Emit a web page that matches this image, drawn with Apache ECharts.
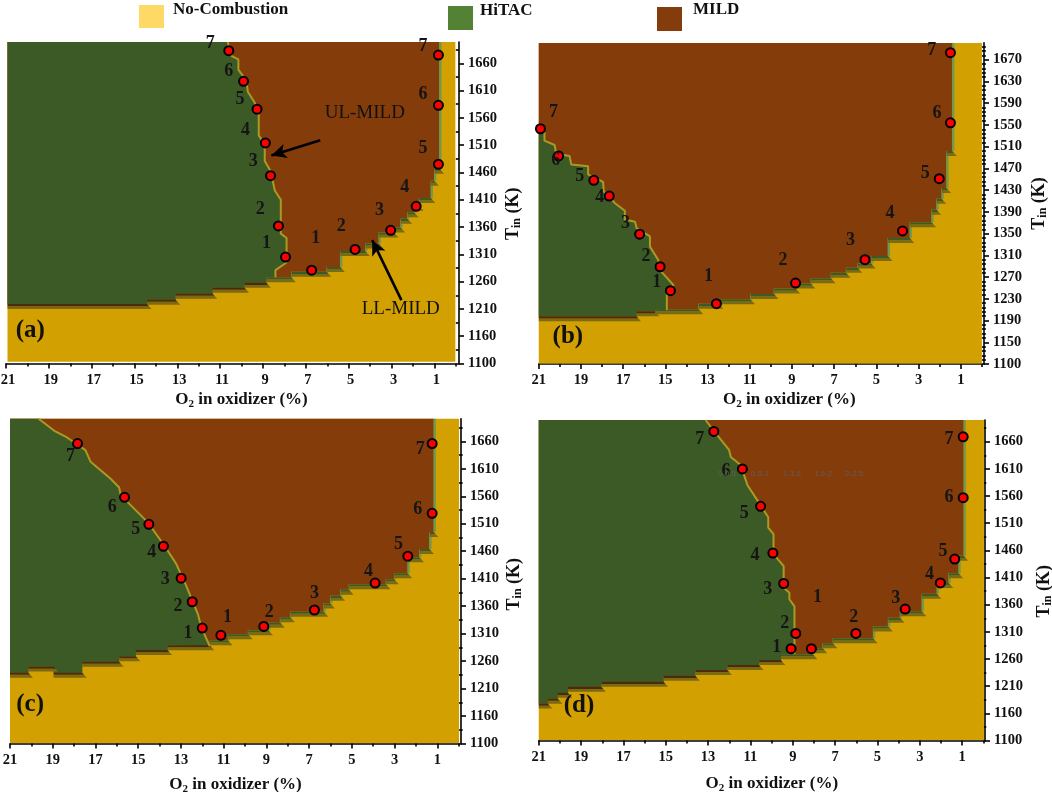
<!DOCTYPE html>
<html><head><meta charset="utf-8">
<style>html,body{margin:0;padding:0;background:#fff}#c{width:1052px;height:792px}</style>
<script src="https://cdn.jsdelivr.net/npm/echarts@6/dist/echarts.min.js"></script>
</head><body><div id="c"></div>
<script>
// ---------- shared tick data
const xMajor = [21,19,17,15,13,11,9,7,5,3,1];
const xMinor = [20,18,16,14,12,10,8,6,4,2,0];
const yMajor50 = [1110,1160,1210,1260,1310,1360,1410,1460,1510,1560,1610,1660];
const yLabels50 = ['1100','1160','1210','1260','1310','1360','1410','1460','1510','1560','1610','1660'];
const yMinor50 = [1135,1185,1235,1285,1335,1385,1435,1485,1535,1585,1635,1685];
const yMajor40 = [1110,1150,1190,1230,1270,1310,1350,1390,1430,1470,1510,1550,1590,1630,1670];
const yLabels40 = ['1100','1150','1190','1230','1270','1310','1350','1390','1430','1470','1510','1550','1590','1630','1670'];
const yMinor40 = [1118,1126,1134,1142,1158,1166,1174,1182,1198,1206,1214,1222,1238,1246,1254,1262,1278,1286,1294,1302,1318,1326,1334,1342,1358,1366,1374,1382,1398,1406,1414,1422,1438,1446,1454,1462,1478,1486,1494,1502,1518,1526,1534,1542,1558,1566,1574,1582,1598,1606,1614,1622,1638,1646,1654,1662,1678,1686,1694];

// ---------- panel (a)
const stairsA = [[20.93,1219],[14.41,1219],[14.41,1227],[13.08,1227],[13.08,1238],[11.35,1238],[11.35,1249],[9.86,1249],[9.86,1258],[8.84,1258],[8.84,1268],[7.67,1268],[7.67,1278],[6.02,1278],[6.02,1287],[5.39,1287],[5.39,1316],[4.22,1316],[4.22,1330],[3.59,1330],[3.59,1350],[2.88,1350],[2.88,1359],[2.57,1359],[2.57,1375],[2.25,1375],[2.25,1387],[1.94,1387],[1.94,1399],[1.71,1399],[1.71,1413],[1.16,1413],[1.16,1445],[1.0,1445],[1.0,1467],[0.76,1467],[0.76,1699]];
const splitA = [[10.65,1699],[10.46,1673],[10.15,1667],[10.15,1648],[9.78,1629],[9.71,1608],[9.39,1588],[9.2,1565],[9.2,1528],[8.92,1511],[8.92,1481],[8.64,1462],[8.45,1427],[8.17,1410],[8.17,1348],[7.9,1340],[7.9,1295],[8.42,1281],[8.42,1268]];
const pointsA = [[10.6,1683],[9.91,1627],[9.28,1576],[8.89,1514],[8.65,1454],[8.28,1362],[7.95,1305],[6.73,1281],[4.7,1319],[3.04,1354],[1.85,1398],[0.81,1475],[0.81,1583],[0.81,1675]];
const numbersA = [[11.46,1697,'7'],[10.6,1646,'6'],[10.07,1594,'5'],[9.82,1538,'4'],[9.46,1480,'3'],[9.13,1392,'2'],[8.84,1330,'1'],[6.54,1340,'1'],[5.35,1362,'2'],[3.56,1391,'3'],[2.38,1433,'4'],[1.53,1505,'5'],[1.53,1604,'6'],[1.53,1691,'7']];

// ---------- panel (b)
const stairsB = [[21,1198],[16.36,1198],[16.36,1207],[15.49,1207],[15.49,1211],[13.42,1211],[13.42,1221],[12.47,1221],[12.47,1229],[10.96,1229],[10.96,1239],[9.85,1239],[9.85,1249],[8.82,1249],[8.82,1258],[8.10,1258],[8.10,1268],[7.15,1268],[7.15,1278],[6.43,1278],[6.43,1287],[5.88,1287],[5.88,1295],[5.24,1295],[5.24,1309],[4.45,1309],[4.45,1342],[3.41,1342],[3.41,1371],[2.38,1371],[2.38,1394],[2.14,1394],[2.14,1414],[1.9,1414],[1.9,1434],[1.67,1434],[1.67,1502],[1.40,1502],[1.40,1701]];
const splitB = [[21,1536],[20.73,1536],[20.73,1521],[20.25,1513],[20.17,1497],[19.54,1493],[19.46,1477],[18.66,1474],[18.66,1459],[17.95,1445],[17.92,1428],[17.39,1406],[16.92,1392],[16.92,1376],[16.44,1372],[16.36,1360],[15.73,1345],[15.73,1326],[15.33,1301],[15.33,1286],[14.61,1255],[14.93,1243],[14.93,1209]];
const pointsB = [[20.92,1543],[20.06,1493],[18.39,1448],[17.66,1419],[16.22,1349],[15.25,1289],[14.76,1245],[12.58,1221],[8.83,1259],[5.54,1302],[3.76,1355],[2.02,1451],[1.49,1554],[1.49,1683]];
const numbersB = [[20.3,1574,'7'],[20.2,1485,'6'],[19.06,1456,'5'],[18.11,1416,'4'],[16.89,1368,'3'],[15.92,1309,'2'],[15.41,1261,'1'],[12.95,1271,'1'],[9.42,1301,'2'],[6.23,1338,'3'],[4.35,1387,'4'],[2.68,1461,'5'],[2.13,1572,'6'],[2.38,1687,'7']];

// ---------- panel (c)
const stairsC = [[21,1239],[20.14,1239],[20.14,1250],[18.96,1250],[18.96,1239],[17.62,1239],[17.62,1259],[15.89,1259],[15.89,1269],[15.11,1269],[15.11,1280],[13.62,1280],[13.62,1289],[11.65,1289],[11.65,1298],[10.79,1298],[10.79,1309],[9.85,1309],[9.85,1316],[8.9,1316],[8.9,1330],[8.35,1330],[8.35,1340],[7.88,1340],[7.88,1350],[6.31,1350],[6.31,1365],[6.0,1365],[6.0,1379],[5.52,1379],[5.52,1390],[5.13,1390],[5.13,1400],[3.4,1400],[3.4,1409],[3.01,1409],[3.01,1420],[2.38,1420],[2.38,1449],[1.83,1449],[1.83,1464],[1.36,1464],[1.36,1495],[1.16,1495],[1.16,1701]];
const splitC = [[19.66,1701],[18.88,1678],[18.33,1667],[17.47,1644],[17.23,1623],[16.29,1592],[15.89,1576],[15.82,1562],[14.56,1513],[13.77,1470],[13.22,1437],[12.75,1397],[12.2,1345],[12.04,1321],[11.65,1287]];
const pointsC = [[17.84,1656],[15.64,1558],[14.5,1509],[13.82,1469],[12.99,1411],[12.47,1368],[12.0,1320],[11.13,1307],[9.12,1323],[6.75,1353],[3.91,1402],[2.38,1451],[1.24,1529],[1.24,1656]];
const numbersC = [[18.17,1632,'7'],[16.21,1540,'6'],[15.11,1500,'5'],[14.37,1458,'4'],[13.73,1408,'3'],[13.14,1359,'2'],[12.67,1311,'1'],[10.82,1340,'1'],[8.87,1348,'2'],[6.75,1383,'3'],[4.22,1424,'4'],[2.81,1472,'5'],[1.91,1536,'6'],[1.8,1646,'7']];

// ---------- panel (d)
const stairsD = [[21,1178],[20.57,1178],[20.57,1187],[20.1,1187],[20.1,1198],[19.62,1198],[19.62,1209],[18.04,1209],[18.04,1218],[15.1,1218],[15.1,1229],[13.6,1229],[13.6,1240],[12.09,1240],[12.09,1249],[10.59,1249],[10.59,1258],[9.56,1258],[9.56,1269],[8.05,1269],[8.05,1280],[7.58,1280],[7.58,1289],[7.1,1289],[7.1,1298],[5.2,1298],[5.2,1320],[4.49,1320],[4.49,1336],[3.93,1336],[3.93,1348],[2.9,1348],[2.9,1380],[2.19,1380],[2.19,1400],[1.63,1400],[1.63,1418],[1.16,1418],[1.16,1450],[0.92,1450],[0.92,1700]];
const splitD = [[13.12,1700],[12.57,1672],[12.01,1645],[11.93,1632],[11.46,1617],[11.14,1580],[10.67,1552],[10.16,1521],[10.16,1502],[9.91,1490],[9.91,1453],[9.43,1431],[9.43,1391],[9.16,1382],[9.16,1370],[8.92,1357],[8.92,1269]];
const pointsD = [[12.73,1679],[11.38,1610],[10.52,1541],[9.94,1455],[9.43,1399],[8.86,1307],[9.08,1279],[8.12,1279],[6.02,1307],[3.69,1352],[2.03,1400],[1.35,1444],[0.95,1557],[0.95,1669]];
const numbersD = [[13.39,1664,'7'],[12.16,1606,'6'],[11.29,1529,'5'],[10.78,1450,'4'],[10.18,1388,'3'],[9.38,1325,'2'],[9.76,1281,'1'],[7.83,1373,'1'],[6.12,1336,'2'],[4.14,1371,'3'],[2.54,1416,'4'],[1.9,1458,'5'],[1.62,1557,'6'],[1.62,1665,'7']];
const faintTextD = [[12.11,1601,'0-0.5'],[10.55,1601,'0.5-1'],[9.04,1601,'1-1.5'],[7.57,1601,'1.5-2'],[6.1,1601,'2-2.5']];

// ---------- annotations
const annotationsA = [[4.25,1569,'UL-MILD'],[2.57,1209,'LL-MILD']];
const arrowsA = [[[6.33,1519],[8.61,1491]],[[2.54,1226],[3.9,1336]]];

const SERIF = '"Liberation Serif","Times New Roman",serif';
const YELLOW='#D2A000', GREEN='#3C5A25', BROWN='#843C0B';
const EDGE_OLIVE='#A89A22', EDGE_VERT='#6F9A4C', WEDGE='#7A6A12', DARK_BROWN='#4B2A0D';

const panels = [
 {tag:'(a)', tagPos:[19.87,1170], stairs:stairsA, split:splitA, points:pointsA, numbers:numbersA,
  box:[6,42,459,363.5], xMin:-0.15, yMax:1699, fill:[20.93,0.02,1113], corner:[[20.93,1699]],
  yMaj:yMajor50, yLab:yLabels50, yMin_:yMinor50, tickMinorLen:3, xShift:18, yShift:22, xGap:26, yGap:44, xLabelPad:4, annotations:annotationsA, arrows:arrowsA},
 {tag:'(b)', tagPos:[19.62,1160], stairs:stairsB, split:splitB, points:pointsB, numbers:numbersB,
  box:[538.75,42.9,984,364], xMin:-0.1, yMax:1701, fill:[21,0,1111], corner:[],
  yMaj:yMajor40, yLab:yLabels40, yMin_:yMinor40, tickMinorLen:4, xShift:56, yShift:0, xGap:26, yGap:45, xLabelPad:0},
 {tag:'(c)', tagPos:[20.06,1181], stairs:stairsC, split:splitC, points:pointsC, numbers:numbersC,
  box:[10,418.8,461,743.5], xMin:-0.11, yMax:1701, fill:[21,-0.02,1111], corner:[[21,1701]],
  yMaj:yMajor50, yLab:yLabels50, yMin_:yMinor50, tickMinorLen:4, xShift:0, yShift:6, xGap:31, yGap:43, xLabelPad:0},
 {tag:'(d)', tagPos:[19.1,1175], stairs:stairsD, split:splitD, points:pointsD, numbers:numbersD, faint:faintTextD,
  box:[538.75,420,985,740.5], xMin:-0.08, yMax:1700, fill:[21,-0.03,1111], corner:[[21,1700]],
  yMaj:yMajor50, yLab:yLabels50, yMin_:yMinor50, tickMinorLen:3, xShift:20, yShift:22, xGap:33, yGap:49, xLabelPad:0}
];

const option = {animation:false, backgroundColor:'#fff', grid:[], xAxis:[], yAxis:[], series:[], graphic:[]};

function polySeries(i, pts, fill, z){
  return {type:'custom', xAxisIndex:i*2, yAxisIndex:i*2, z, silent:true, data:pts, encode:{x:0,y:1},
    renderItem:(p,api)=> p.dataIndex!==0 ? null :
      {type:'polygon', shape:{points:pts.map(q=>api.coord(q))}, style:{fill}}};
}
function textSeries(i, items, styleOf, z){
  return {type:'custom', xAxisIndex:i*2, yAxisIndex:i*2, z, silent:true, data:items.map(d=>[d[0],d[1]]), encode:{x:0,y:1},
    renderItem:(p,api)=>{ const c=api.coord([api.value(0),api.value(1)]);
      return {type:'text', style:Object.assign({x:c[0],y:c[1],text:items[p.dataIndex][2],textAlign:'center',textVerticalAlign:'middle',verticalAlign:'middle'},styleOf)}; }};
}
function stairEdgeSeries(i, stairs, splitX){
  return {type:'custom', xAxisIndex:i*2, yAxisIndex:i*2, z:4, silent:true, data:stairs, encode:{x:0,y:1},
    renderItem:(p,api)=>{
      if(p.dataIndex===0) return null;
      const a=stairs[p.dataIndex-1], b=stairs[p.dataIndex];
      const A=api.coord(a), B=api.coord(b);
      if(a[1]===b[1]){
        const hitac=(a[0]+b[0])/2>splitX;
        return {type:'group',children:[
          {type:'polygon',shape:{points:[[A[0],A[1]+2.2],[B[0]+1.8,B[1]+2.2],[B[0]+4.5,B[1]+5],[A[0],A[1]+5]]},style:{fill:WEDGE}},
          {type:'polygon',shape:{points:[[A[0],A[1]],[B[0],B[1]],[B[0]+1.8,B[1]+2.2],[A[0],A[1]+2.2]]},style:{fill:hitac?DARK_BROWN:GREEN}}
        ]};
      }
      if(a[0]<splitX) return {type:'line',shape:{x1:A[0]+0.8,y1:A[1],x2:B[0]+0.8,y2:B[1]},style:{stroke:EDGE_VERT,lineWidth:2.4}};
      return null;
    }};
}

panels.forEach((P,i)=>{
  const [l,t,r,b]=P.box;
  option.grid.push({left:l,top:t,width:r-l,height:b-t,containLabel:false,outerBoundsMode:'none'});
  const axisLine={show:true,onZero:false,lineStyle:{color:'#000',width:1.6}};
  const xName='{b|O}{s|2}{b| in oxidizer (%)}';
  option.xAxis.push(
   {type:'value',gridIndex:i,inverse:true,min:P.xMin,max:21,splitLine:{show:false},axisLine,
    axisTick:{show:true,customValues:xMajor,length:5,lineStyle:{color:'#000',width:1.6}},
    axisLabel:{show:true,customValues:xMajor,margin:9,padding:[0,0,0,P.xLabelPad],fontFamily:SERIF,fontWeight:'bold',fontSize:14.5,color:'#111'},
    name:xName,nameLocation:'middle',nameGap:P.xGap,
    nameTextStyle:{padding:[0,0,0,P.xShift],rich:{
      b:{fontFamily:SERIF,fontWeight:'bold',fontSize:17,color:'#111',lineHeight:20},
      s:{fontFamily:SERIF,fontWeight:'bold',fontSize:11,color:'#111',verticalAlign:'bottom',lineHeight:16}}}},
   {type:'value',gridIndex:i,inverse:true,min:P.xMin,max:21,position:'bottom',splitLine:{show:false},axisLine:{show:false},
    axisTick:{show:true,customValues:xMinor,length:3,lineStyle:{color:'#000',width:1.6}},axisLabel:{show:false}}
  );
  option.yAxis.push(
   {type:'value',gridIndex:i,position:'right',min:1110,max:P.yMax,splitLine:{show:false},axisLine,
    axisTick:{show:true,customValues:P.yMaj,length:5,lineStyle:{color:'#000',width:1.6}},
    axisLabel:{show:true,customValues:P.yMaj,margin:9,fontFamily:SERIF,fontWeight:'bold',fontSize:14.5,color:'#111',
      formatter:v=>P.yLab[P.yMaj.indexOf(v)]},
    name:'{b|T}{s|in}{b| (K)}',nameLocation:'middle',nameRotate:90,nameGap:P.yGap,
    nameTextStyle:{padding:[0,P.yShift,0,0],rich:{
      b:{fontFamily:SERIF,fontWeight:'bold',fontSize:18,color:'#111',lineHeight:20},
      s:{fontFamily:SERIF,fontWeight:'bold',fontSize:12,color:'#111',verticalAlign:'bottom',lineHeight:16}}}},
   {type:'value',gridIndex:i,position:'right',min:1110,max:P.yMax,splitLine:{show:false},axisLine:{show:false},
    axisTick:{show:true,customValues:P.yMin_,length:P.tickMinorLen,lineStyle:{color:'#000',width:1.6}},axisLabel:{show:false}}
  );
  option.series.push({type:'line',xAxisIndex:i*2+1,yAxisIndex:i*2+1,data:[],silent:true});

  const [fl,fr,fb]=P.fill;
  const splitX=P.split[P.split.length-1][0];
  const background=[[fl,P.yMax],[fr,P.yMax],[fr,fb],[fl,fb]];
  const combustion=P.stairs.concat([[P.stairs[0][0],P.yMax]]);
  const hitacEdge=P.stairs.filter(q=>q[0]>splitX).reverse();
  const hitac=P.corner.concat(P.split).concat(hitacEdge);
  option.series.push(polySeries(i,background,YELLOW,1));
  option.series.push(polySeries(i,combustion,BROWN,2));
  option.series.push(polySeries(i,hitac,GREEN,3));
  option.series.push(stairEdgeSeries(i,P.stairs,splitX));
  option.series.push({type:'line',xAxisIndex:i*2,yAxisIndex:i*2,z:5,silent:true,data:P.split,showSymbol:false,symbol:'none',
    lineStyle:{color:EDGE_OLIVE,width:2}});
  option.series.push({type:'scatter',xAxisIndex:i*2,yAxisIndex:i*2,z:7,silent:true,data:P.points,symbol:'circle',symbolSize:9,
    itemStyle:{color:'#FF0000',borderColor:'#000',borderWidth:2,opacity:1}});
  option.series.push(textSeries(i,P.numbers,{font:'bold 18px '+SERIF,fill:'#151515'},8));
  option.series.push(textSeries(i,[[P.tagPos[0],P.tagPos[1],P.tag]],{font:'bold 25px '+SERIF,fill:'#111'},8));
  if(P.faint) option.series.push(textSeries(i,P.faint,{font:'8px "Liberation Sans",sans-serif',fill:'#5e5e5e'},8));
  if(P.annotations) option.series.push(textSeries(i,P.annotations,{font:'19px '+SERIF,fill:'#111'},8));
  if(P.arrows) option.series.push({type:'line',xAxisIndex:i*2,yAxisIndex:i*2,z:6,silent:true,data:[],
    markLine:{silent:true,symbol:['none','arrow'],symbolSize:[11,15],label:{show:false},animation:false,
      lineStyle:{color:'#000',width:2.6,type:'solid'},
      data:P.arrows.map(a=>[{coord:a[0]},{coord:a[1]}])}});
});

const legendRows=[
 {name:'No-Combustion',color:'#FFD966',rect:[139,5,25,23],textX:173,textY:10},
 {name:'HiTAC',color:'#548235',rect:[448,6,25,24],textX:480,textY:11},
 {name:'MILD',color:'#843C0C',rect:[657,7,25,24],textX:693,textY:10}
];
legendRows.forEach(L=>{
  option.graphic.push({type:'rect',shape:{x:L.rect[0],y:L.rect[1],width:L.rect[2],height:L.rect[3]},style:{fill:L.color},silent:true});
  option.graphic.push({type:'text',x:L.textX,y:L.textY,style:{text:L.name,font:'bold 17px '+SERIF,fill:'#111',textVerticalAlign:'middle',verticalAlign:'middle'},silent:true});
});

const chart=echarts.init(document.getElementById('c'),null,{renderer:'canvas',width:1052,height:792});
chart.setOption(option);
</script></body></html>
